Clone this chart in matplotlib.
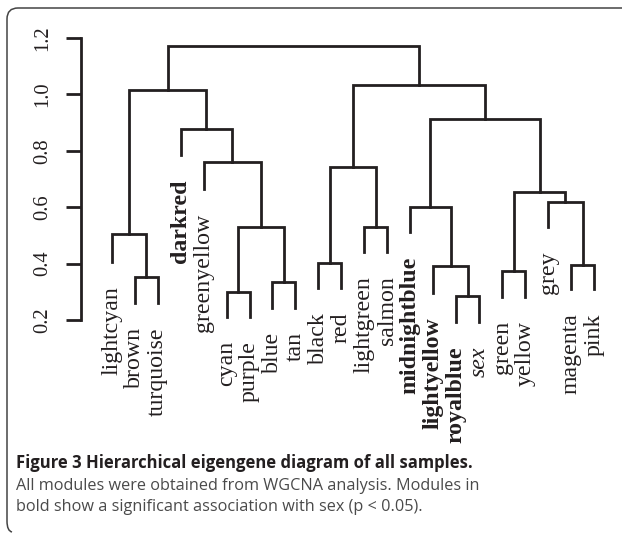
import matplotlib
matplotlib.use("Agg")
import matplotlib.pyplot as plt
from matplotlib.path import Path
from matplotlib.patches import PathPatch

W, H = 622, 535

# leaves in plotting order, with the height where each leaf stem ends
leaves = [
    "lightcyan", "brown", "turquoise", "darkred", "greenyellow", "cyan",
    "purple", "blue", "tan", "black", "red", "lightgreen", "salmon",
    "midnightblue", "lightyellow", "royalblue", "sex", "green", "yellow",
    "grey", "magenta", "pink",
]
leaf_tips = [
    0.407, 0.261, 0.261, 0.785, 0.663, 0.212,
    0.212, 0.244, 0.244, 0.312, 0.312, 0.442, 0.442,
    0.511, 0.297, 0.192, 0.192, 0.283, 0.283,
    0.531, 0.309, 0.309,
]
bold_leaves = ["darkred", "midnightblue", "lightyellow", "royalblue"]
italic_leaves = ["sex"]

# merges: (left child, right child, height); "#k" refers to merge k
merges = [
    ("brown", "turquoise", 0.351),
    ("lightcyan", "#0", 0.504),
    ("cyan", "purple", 0.298),
    ("blue", "tan", 0.336),
    ("#2", "#3", 0.531),
    ("greenyellow", "#4", 0.759),
    ("darkred", "#5", 0.877),
    ("#1", "#6", 1.015),
    ("black", "red", 0.401),
    ("lightgreen", "salmon", 0.531),
    ("#8", "#9", 0.741),
    ("royalblue", "sex", 0.286),
    ("lightyellow", "#11", 0.391),
    ("midnightblue", "#12", 0.602),
    ("green", "yellow", 0.375),
    ("magenta", "pink", 0.395),
    ("grey", "#15", 0.617),
    ("#14", "#16", 0.653),
    ("#13", "#17", 0.912),
    ("#10", "#18", 1.033),
    ("#7", "#19", 1.173),
]

y_ticks = [0.2, 0.4, 0.6, 0.8, 1.0, 1.2]
y_tick_labels = ["0.2", "0.4", "0.6", "0.8", "1.0", "1.2"]

caption_title = "Figure 3 Hierarchical eigengene diagram of all samples."
caption_lines = [
    "All modules were obtained from WGCNA analysis. Modules in",
    "bold show a significant association with sex (p < 0.05).",
]

INK = "#231f20"
SERIF = ["Liberation Serif", "DejaVu Serif"]
SANS = ["Open Sans", "DejaVu Sans"]

fig = plt.figure(figsize=(W / 100, H / 100), dpi=100)

# axes placed so that the y axis line sits at x ~ 81 px, 0.2 at y=320 px, 1.2 at y=38 px
ax_left_px, ax_right_px = 80.7, 612.0
leaf0_px, leaf_step_px = 111.7, 22.97
ax = fig.add_axes([
    ax_left_px / W, (H - 320) / H,
    (ax_right_px - ax_left_px) / W, 282 / H,
])
x_lo = (ax_left_px - leaf0_px) / leaf_step_px
x_hi = x_lo + (ax_right_px - ax_left_px) / leaf_step_px
ax.set_xlim(x_lo, x_hi)
ax.set_ylim(0.2, 1.2)

# node positions and heights
node_x = {name: i for i, name in enumerate(leaves)}
node_h = {name: leaf_tips[i] for i, name in enumerate(leaves)}
for k, (a, b, h) in enumerate(merges):
    xa, xb = node_x[a], node_x[b]
    ax.plot([xa, xa, xb, xb], [node_h[a], h, h, node_h[b]],
            color=INK, lw=2.0, solid_joinstyle="miter", clip_on=False)
    node_x[f"#{k}"] = (xa + xb) / 2
    node_h[f"#{k}"] = h

for i, name in enumerate(leaves):
    weight = "bold" if name in bold_leaves else "normal"
    style = "italic" if name in italic_leaves else "normal"
    ax.annotate(name, (i, leaf_tips[i]), xytext=(0, -17.5), textcoords="offset points",
                rotation=90, ha="center", va="top", fontsize=17.2,
                family=SERIF, fontweight=weight, fontstyle=style, color=INK,
                annotation_clip=False)

for side in ["top", "right", "bottom"]:
    ax.spines[side].set_visible(False)
ax.spines["left"].set_bounds(0.2, 1.2)
ax.spines["left"].set_linewidth(2.0)
ax.spines["left"].set_color(INK)
ax.set_xticks([])
ax.set_yticks(y_ticks)
ax.set_yticklabels(y_tick_labels, family=SERIF, fontsize=14.8, color=INK)
ax.tick_params(axis="y", labelrotation=90, length=10.8, width=2.0,
               color=INK, pad=10)
for lab in ax.get_yticklabels():
    lab.set_va("center")

# caption
fig.text(16 / W, 1 - 468 / H, caption_title, family=SANS, fontweight="bold",
         fontsize=12.0, color=INK, va="baseline", ha="left")
for j, line in enumerate(caption_lines):
    fig.text(16 / W, 1 - (490 + 21 * j) / H, line, family=SANS, fontsize=11.7,
             color="#4a4a4a", va="baseline", ha="left")

# frame: top edge and left edge with rounded corners
pts = [(W, 8), (18, 8), (7, 8), (7, 19), (7, 521), (7, 531), (12, 532)]
codes = [Path.MOVETO, Path.LINETO, Path.CURVE3, Path.CURVE3,
         Path.LINETO, Path.CURVE3, Path.CURVE3]
frame = Path([(x / W, 1 - y / H) for x, y in pts], codes)
fig.add_artist(PathPatch(frame, transform=fig.transFigure, fill=False,
                         edgecolor="#444444", lw=1.1))

fig.savefig("out.png", dpi=100, facecolor="white")
